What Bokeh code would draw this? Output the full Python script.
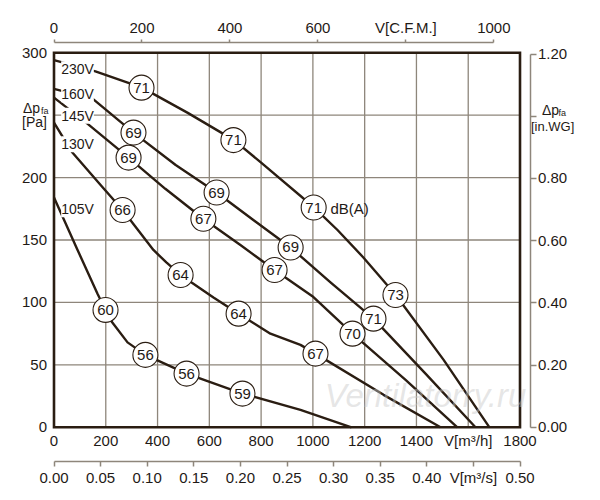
from bokeh.plotting import figure
from bokeh.models import Range1d, LinearAxis, FixedTicker, NumeralTickFormatter, Label
from bokeh.core.properties import value
from bokeh.embed import file_html
from bokeh.resources import INLINE

# ---------------- data ----------------
# fan curves: airflow V [m3/h] vs static pressure dp [Pa]
v_230 = [0, 160, 340, 515, 695, 800, 1005, 1095, 1195, 1320, 1505, 1682]
p_230 = [294, 285, 272, 252, 230, 212, 176, 158, 136, 106, 54, 0]

v_160 = [0, 150, 307, 470, 628, 770, 914, 1068, 1234, 1435, 1628]
p_160 = [271, 263, 236, 210, 188, 166, 144, 116, 87, 43, 0]

v_145 = [0, 130, 288, 430, 577, 720, 852, 998, 1153, 1358, 1558]
p_145 = [264, 243, 216, 191, 167, 146, 126, 105, 75, 38, 0]

v_130 = [0, 71, 180, 265, 384, 434, 489, 616, 713, 836, 952, 1010, 1273, 1493]
p_130 = [244, 220, 194, 174, 142, 132, 122, 104, 91, 75, 66, 59, 26, 0]

v_105 = [0, 91, 168, 199, 218, 284, 353, 512, 728, 952, 1149]
p_105 = [184, 142, 107, 94, 86, 68, 58, 43, 27, 14, 0]

voltages = ["230V", "160V", "145V", "130V", "105V"]

# sound level markers dB(A)
db_v = [338, 693, 1003, 1319,
        307, 628, 914, 1234,
        288, 577, 852, 1153,
        265, 489, 713, 1010,
        199, 353, 512, 728]
db_p = [272, 230, 176, 106,
        236, 188, 144, 87,
        216, 167, 126, 75,
        174, 122, 91, 59,
        94, 58, 43, 27]
db_val = ["71", "71", "71", "73",
          "69", "69", "69", "71",
          "69", "67", "67", "70",
          "66", "64", "64", "67",
          "60", "56", "56", "59"]

# axis ticks
ticks_m3h = [0, 200, 400, 600, 800, 1000, 1200, 1400, 1600, 1800]
ticks_cfm = [0, 200, 400, 600, 800, 1000]
ticks_m3s = [0, 0.05, 0.1, 0.15, 0.2, 0.25, 0.3, 0.35, 0.4, 0.45, 0.5]
ticks_pa = [0, 50, 100, 150, 200, 250, 300]
ticks_inwg = [0, 0.2, 0.4, 0.6, 0.8, 1.0, 1.2]
grid_v = [200, 400, 600, 800, 1000, 1200, 1400, 1600]
grid_p = [50, 100, 150, 200, 250]

M3H_PER_CFM = 1.69901
PA_PER_INWG = 249.089

# ---------------- layout / styling ----------------
DARK = "#2a1d12"
GRID = "#8e867b"
TXT = "#1f1a16"
FONT = "Liberation Sans"

W, H = 592, 492
PX_X0, PX_PER_X = 53.5, 0.25889     # page px of V=0, px per m3/h
PX_Y0, PX_PER_Y = 426.8, 1.2487     # page px of dp=0, px per Pa


def dx(px):
    return (px - PX_X0) / PX_PER_X


def dy(py):
    return (PX_Y0 - py) / PX_PER_Y


X0, X1 = dx(0), dx(W)
Y0, Y1 = dy(H), dy(0)

p = figure(width=W, height=H,
           x_range=Range1d(X0, X1), y_range=Range1d(Y0, Y1),
           output_backend="svg", toolbar_location=None,
           min_border_left=0, min_border_right=0,
           min_border_top=0, min_border_bottom=0)
p.outline_line_color = None
p.background_fill_color = "white"
p.border_fill_color = "white"
p.xgrid.visible = False
p.ygrid.visible = False

p.extra_x_ranges = {"cfm": Range1d(X0 / M3H_PER_CFM, X1 / M3H_PER_CFM),
                    "m3s": Range1d(X0 / 3600.0, X1 / 3600.0)}
p.extra_y_ranges = {"inwg": Range1d(Y0 / PA_PER_INWG, Y1 / PA_PER_INWG)}


def style_axis(ax, size="15px"):
    ax.major_label_text_font = FONT
    ax.major_label_text_font_size = size
    ax.major_label_text_color = TXT
    ax.minor_tick_line_color = None
    ax.major_tick_in = 0


# bottom m3/h axis (labels only), on the chart border
xa = p.xaxis[0]
style_axis(xa)
xa.ticker = FixedTicker(ticks=ticks_m3h)
xa.major_label_overrides = {1600: "V[m³/h]"}
xa.axis_line_color = None
xa.major_tick_line_color = None
xa.major_tick_out = 0
xa.major_label_standoff = 5
xa.fixed_location = 0

# bottom m3/s axis
sa = LinearAxis(x_range_name="m3s", ticker=FixedTicker(ticks=ticks_m3s),
                formatter=NumeralTickFormatter(format="0.00"),
                major_label_overrides={0.45: "V[m³/s]"}, bounds=(0, 0.5),
                fixed_location=dy(460.7))
style_axis(sa)
sa.axis_line_color = GRID
sa.axis_line_width = 1.5
sa.major_tick_line_color = GRID
sa.major_tick_line_width = 1.5
sa.major_tick_out = 5
sa.major_label_standoff = 3
p.add_layout(sa, "below")

# top CFM axis
ca = LinearAxis(x_range_name="cfm", ticker=FixedTicker(ticks=ticks_cfm),
                major_label_overrides={800: "V[C.F.M.]"}, bounds=(0, 1000),
                fixed_location=dy(42.3))
style_axis(ca)
ca.axis_line_color = GRID
ca.axis_line_width = 1.5
ca.major_tick_line_color = GRID
ca.major_tick_line_width = 1.5
ca.major_tick_out = 3
ca.major_label_standoff = 4
p.add_layout(ca, "above")

# left Pa axis
ya = p.yaxis[0]
style_axis(ya)
ya.ticker = FixedTicker(ticks=ticks_pa)
ya.major_label_overrides = {250: ""}
ya.axis_line_color = None
ya.major_tick_line_color = None
ya.major_tick_out = 0
ya.major_label_standoff = 7
ya.fixed_location = 0

# right in.WG axis
ra = LinearAxis(y_range_name="inwg", ticker=FixedTicker(ticks=ticks_inwg),
                formatter=NumeralTickFormatter(format="0.00"),
                major_label_overrides={1.0: ""}, bounds=(0, 1.2),
                fixed_location=dx(529.5))
style_axis(ra)
ra.axis_line_color = GRID
ra.axis_line_width = 1.5
ra.major_tick_line_color = GRID
ra.major_tick_line_width = 1.5
ra.major_tick_out = 6
ra.major_label_standoff = 2
p.add_layout(ra, "right")

# grid lines inside the chart border
p.segment(x0=grid_v, y0=[0] * len(grid_v), x1=grid_v, y1=[300] * len(grid_v),
          line_color=GRID, line_width=1.3)
p.segment(x0=[0] * len(grid_p), y0=grid_p, x1=[1800] * len(grid_p), y1=grid_p,
          line_color=GRID, line_width=1.3)

# thick chart border
p.quad(left=[0], right=[1800], bottom=[0], top=[300], fill_color=None,
       line_color=DARK, line_width=2.6, line_join="miter")

# curves
for vs, ps in [(v_230, p_230), (v_160, p_160), (v_145, p_145),
               (v_130, p_130), (v_105, p_105)]:
    p.line(vs, ps, line_color=DARK, line_width=2.4, line_join="round")

# voltage labels on the curves
for name, py in zip(voltages, [68.7, 93.7, 115.3, 143.7, 208.7]):
    p.add_layout(Label(x=dx(77), y=dy(py), text=name, text_font=FONT,
                       text_font_size="14px", text_color=TXT,
                       text_align="center", text_baseline="middle",
                       background_fill_color="white"))

# dB(A) circles
p.scatter(db_v, db_p, marker="circle", size=25, fill_color="white",
          line_color=DARK, line_width=1.1)
p.text(db_v, db_p, text=db_val, text_font=value(FONT), text_font_size="15px",
       text_color=TXT, text_align="center", text_baseline="middle")
p.add_layout(Label(x=dx(330), y=dy(207.5), text="dB(A)", text_font=FONT,
                   text_font_size="15px", text_color=TXT,
                   text_align="left", text_baseline="middle"))

# pressure axis titles
for (px, py, t, fs) in [(22.5, 107, "Δp", "14px"), (40.5, 110, "fa", "9px"),
                        (21.5, 121.5, "[Pa]", "14px"),
                        (541.5, 109, "Δp", "14px"), (558, 112, "fa", "9px"),
                        (530.5, 126, "[in.WG]", "13px")]:
    p.add_layout(Label(x=dx(px), y=dy(py), text=t, text_font=FONT,
                       text_font_size=fs, text_color=TXT,
                       text_align="left", text_baseline="middle"))

# watermark
p.text([dx(425)], [dy(395)], text=["Ventilatorry.ru"], text_font=value(FONT),
       text_font_style="italic", text_font_size="33px", text_color="#c8c8c8",
       text_alpha=0.45, text_align="center", text_baseline="middle")

open("out.html", "w").write(file_html(p, INLINE))
